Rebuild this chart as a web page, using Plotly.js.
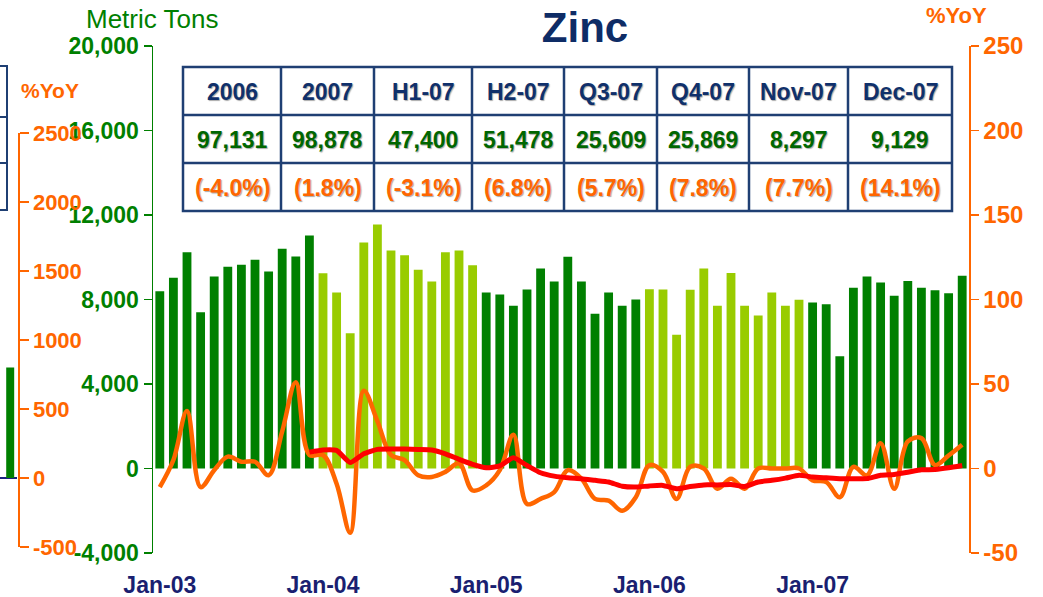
<!DOCTYPE html>
<html><head><meta charset="utf-8">
<script src="https://cdn.plot.ly/plotly-3.0.1.min.js"></script>
<style>html,body{margin:0;padding:0;background:#fff;}#chart{width:1043px;height:597px;}</style>
</head><body><div id="chart"></div>
<script>
// ---------- data ----------
const years = ['03','04','05','06','07'];
const monthNames = ['Jan','Feb','Mar','Apr','May','Jun','Jul','Aug','Sep','Oct','Nov','Dec'];
const categories = [];
years.forEach(y => monthNames.forEach(m => categories.push(m + '-' + y)));

// Monthly volume, metric tons
const volume2003 = [8394, 9027, 10240, 7400, 9089, 9548, 9643, 9880, 9326, 10400, 10036, 11030];
const volume2004 = [9246, 8332, 6405, 10699, 11551, 10320, 10098, 9406, 8853, 10240, 10320, 9624];
const volume2005 = [8332, 8237, 7702, 8474, 9468, 8853, 10021, 8853, 7323, 8332, 7702, 8000];
const volume2006 = [8480, 8470, 6330, 8460, 9470, 7700, 9250, 7710, 7240, 8330, 7700, 7991];
const volume2007 = [7858, 7780, 5318, 8552, 9089, 8803, 8180, 8870, 8559, 8443, 8297, 9129];

// Monthly %YoY (orange)
const monthlyYoY = [-11, 5, 34, -11, -1, 7, 4, 4, -4, 22, 51, 8,
                    8, -9, -38, 46, 28, 8, 5, -4, -5, -2, 3, -13,
                    -10, -1, 20, -21, -18, -14, -1, -6, -18, -19, -25, -17,
                    2, -2, -18, 1, 0, -12, -6, -12, 0, 0, 0, 0,
                    -7, -8, -17, 1, -4, 15, -12, 16, 18, 2, 7.7, 14.1];
// Cumulative %YoY (red)
const cumulativeYoY = [null, null, null, null, null, null, null, null, null, null, null, 9.7,
                       11, 10.7, 3.5, 8.7, 11.3, 11.5, 11.5, 11.3, 11, 8.7, 5.5, 2.5,
                       0.5, 1.5, 6.3, 1.8, -2.5, -4.5, -5.5, -6, -7, -8, -10.5, -11,
                       -10.3, -10, -12, -10.7, -9.7, -9.7, -9.5, -10.7, -8, -7, -5.7, -4.0,
                       -5, -5.5, -6, -6, -6, -4, -3.5, -2.2, -0.8, -0.6, 0.4, 1.8];

// Summary table
const tableHeaders = ['2006', '2007', 'H1-07', 'H2-07', 'Q3-07', 'Q4-07', 'Nov-07', 'Dec-07'];
const tableVolumes = [97131, 98878, 47400, 51478, 25609, 25869, 8297, 9129];
const tableYoY = [-4.0, 1.8, -3.1, 6.8, 5.7, 7.8, 7.7, 14.1];

// Axis ticks
const xTickLabels = ['Jan-03', 'Jan-04', 'Jan-05', 'Jan-06', 'Jan-07'];
const leftTickVals = [-4000, 0, 4000, 8000, 12000, 16000, 20000];
const leftTickText = ['-4,000', '0', '4,000', '8,000', '12,000', '16,000', '20,000'];
const rightTickVals = [-50, 0, 50, 100, 150, 200, 250];
const rightTickText = ['-50', '0', '50', '100', '150', '200', '250'];
// Fragment of a neighbouring chart on the left edge
const fragTickVals = [-500, 0, 500, 1000, 1500, 2000, 2500];
const fragTickText = ['-500', '0', '500', '1000', '1500', '2000', '2500'];
const fragBarValue = [800];

// ---------- build ----------
const volumes = [].concat(volume2003, volume2004, volume2005, volume2006, volume2007);
const DARK = '#008000', LIGHT = '#99CC00', ORANGE = '#FF6600', NAVY = '#1F3F73', AXNAVY = '#1a237e';
const FONT = 'Arial, "Liberation Sans", sans-serif';
const SHADOW = '1px 1px 1px #aaa';
const barColors = volumes.map((v, i) => (Math.floor(i / 12) % 2 === 0 ? DARK : LIGHT));
const boundaryTicks = [];
for (let i = 0; i <= categories.length; i += 6) boundaryTicks.push(i - 0.5);

const W = 1043, H = 597, TOP = 46, BOT = 553, PH = BOT - TOP;
const px = x => x / W;
const py = y => (BOT - y) / PH;

// table geometry (pixels)
const colEdges = [183, 281, 374, 472, 564, 657, 749, 848, 952];
const rowEdges = [67, 115, 163, 211];

const traces = [
  {type: 'bar', x: categories, y: volumes, marker: {color: barColors}, xaxis: 'x', yaxis: 'y', hoverinfo: 'skip'},
  {type: 'scatter', mode: 'lines', x: categories, y: monthlyYoY, xaxis: 'x', yaxis: 'y2',
   line: {color: ORANGE, width: 4.5, shape: 'spline', smoothing: 1}, hoverinfo: 'skip'},
  {type: 'scatter', mode: 'lines', x: categories, y: cumulativeYoY, xaxis: 'x', yaxis: 'y2',
   line: {color: '#FF0000', width: 5, shape: 'spline', smoothing: 0.5}, hoverinfo: 'skip'},
  {type: 'bar', x: [0], y: fragBarValue, width: 0.47, marker: {color: DARK}, xaxis: 'x4', yaxis: 'y3', hoverinfo: 'skip'}
];

const tickFont = c => ({family: FONT, size: 23, color: c, weight: 'bold'});

const annotations = [
  {text: 'Metric Tons', xref: 'paper', yref: 'paper', x: px(84), y: py(19), xanchor: 'left', yanchor: 'middle',
   showarrow: false, font: {family: FONT, size: 26, color: DARK}},
  {text: '%YoY', xref: 'paper', yref: 'paper', x: px(924), y: py(16), xanchor: 'left', yanchor: 'middle',
   showarrow: false, font: {family: FONT, size: 22, color: ORANGE, weight: 'bold'}},
  {text: '%YoY', xref: 'paper', yref: 'paper', x: px(19), y: py(90), xanchor: 'left', yanchor: 'middle',
   showarrow: false, font: {family: FONT, size: 21, color: ORANGE, weight: 'bold'}}
];
const shapes = [
  {type: 'rect', xref: 'paper', yref: 'paper', x0: px(-10), x1: px(7), y0: py(210), y1: py(66), line: {color: NAVY, width: 2}},
  {type: 'line', xref: 'paper', yref: 'paper', x0: px(-10), x1: px(7), y0: py(117), y1: py(117), line: {color: NAVY, width: 2}},
  {type: 'line', xref: 'paper', yref: 'paper', x0: px(-10), x1: px(7), y0: py(163), y1: py(163), line: {color: NAVY, width: 2}},
  {type: 'rect', xref: 'paper', yref: 'paper', x0: px(colEdges[0]), x1: px(colEdges[colEdges.length - 1]),
   y0: py(rowEdges[rowEdges.length - 1]), y1: py(rowEdges[0]), line: {color: NAVY, width: 2.5}, fillcolor: 'white', layer: 'above'}
];
for (let r = 1; r < rowEdges.length - 1; r++) {
  shapes.push({type: 'line', xref: 'paper', yref: 'paper', x0: px(colEdges[0]), x1: px(colEdges[colEdges.length - 1]),
               y0: py(rowEdges[r]), y1: py(rowEdges[r]), line: {color: NAVY, width: 2.5}});
}
for (let c = 1; c < colEdges.length - 1; c++) {
  shapes.push({type: 'line', xref: 'paper', yref: 'paper', x0: px(colEdges[c]), x1: px(colEdges[c]),
               y0: py(rowEdges[rowEdges.length - 1]), y1: py(rowEdges[0]), line: {color: NAVY, width: 2.5}});
}
const rowTexts = [
  {vals: tableHeaders, color: '#10306B'},
  {vals: tableVolumes.map(v => v.toLocaleString('en-US')), color: '#006600'},
  {vals: tableYoY.map(v => '(' + v.toFixed(1) + '%)'), color: ORANGE}
];
rowTexts.forEach((row, r) => {
  row.vals.forEach((t, c) => {
    annotations.push({text: t, xref: 'paper', yref: 'paper',
      x: px((colEdges[c] + colEdges[c + 1]) / 2), y: py((rowEdges[r] + rowEdges[r + 1]) / 2 + 1),
      xanchor: 'center', yanchor: 'middle', showarrow: false,
      font: {family: FONT, size: 23, color: row.color, weight: 'bold', shadow: SHADOW}});
  });
});

const layout = {
  width: W, height: H, autosize: false,
  margin: {l: 0, r: 0, t: TOP, b: H - BOT, pad: 0},
  paper_bgcolor: 'white', plot_bgcolor: 'white',
  showlegend: false, bargap: 0.35,
  font: {family: FONT},
  title: {text: 'Zinc', x: 585 / W, xanchor: 'center', y: 1 - 27 / H, yanchor: 'middle',
          font: {family: FONT, size: 42, color: '#0E2C66', weight: 'bold'}},
  xaxis: {domain: [px(153), px(969)], type: 'category', range: [-0.5, 59.5],
          tickvals: xTickLabels, ticktext: xTickLabels, ticks: 'outside', ticklen: 11, tickcolor: 'rgba(0,0,0,0)',
          tickfont: tickFont('#1A1F71'), showline: false, showgrid: false, zeroline: false, fixedrange: true},
  xaxis2: {overlaying: 'x', anchor: 'free', position: 1 / 6, type: 'linear', range: [-0.5, 59.5],
           showline: true, linecolor: AXNAVY, linewidth: 2, ticks: 'outside', ticklen: 7, tickwidth: 2, tickcolor: AXNAVY,
           tickvals: boundaryTicks, showticklabels: false, showgrid: false, zeroline: false},
  xaxis3: {overlaying: 'x', anchor: 'free', position: 1 / 6, type: 'linear', range: [-0.5, 59.5],
           showline: false, ticks: 'inside', ticklen: 7, tickwidth: 2, tickcolor: AXNAVY,
           tickvals: boundaryTicks, showticklabels: false, showgrid: false, zeroline: false},
  xaxis4: {domain: [0, px(17)], anchor: 'y3', range: [-0.6, 0.4], visible: false},
  yaxis: {range: [-4000, 20000], tickvals: leftTickVals, ticktext: leftTickText,
          showline: true, linecolor: DARK, linewidth: 1.5, ticks: 'outside', ticklen: 8, tickwidth: 1.5, tickcolor: DARK,
          tickfont: tickFont(DARK), showgrid: false, zeroline: false},
  yaxis2: {overlaying: 'y', side: 'right', anchor: 'x', range: [-50, 250], tickvals: rightTickVals, ticktext: rightTickText,
           showline: true, linecolor: ORANGE, linewidth: 1.5, ticks: 'outside', ticklen: 8, tickwidth: 1.5, tickcolor: ORANGE,
           tickfont: {family: FONT, size: 24, color: ORANGE, weight: 'bold'}, showgrid: false, zeroline: false},
  yaxis3: {domain: [py(547), py(133)], anchor: 'free', position: px(18), side: 'right', range: [-500, 2500],
           tickvals: fragTickVals, ticktext: fragTickText,
           showline: true, linecolor: ORANGE, linewidth: 1.5, ticks: 'outside', ticklen: 9, tickwidth: 1.5, tickcolor: ORANGE,
           tickfont: {family: FONT, size: 22, color: ORANGE, weight: 'bold'}, showgrid: false,
           zeroline: true, zerolinecolor: AXNAVY, zerolinewidth: 2},
  annotations: annotations,
  shapes: shapes
};

Plotly.newPlot('chart', traces, layout, {displayModeBar: false, staticPlot: true});
</script>
</body></html>
